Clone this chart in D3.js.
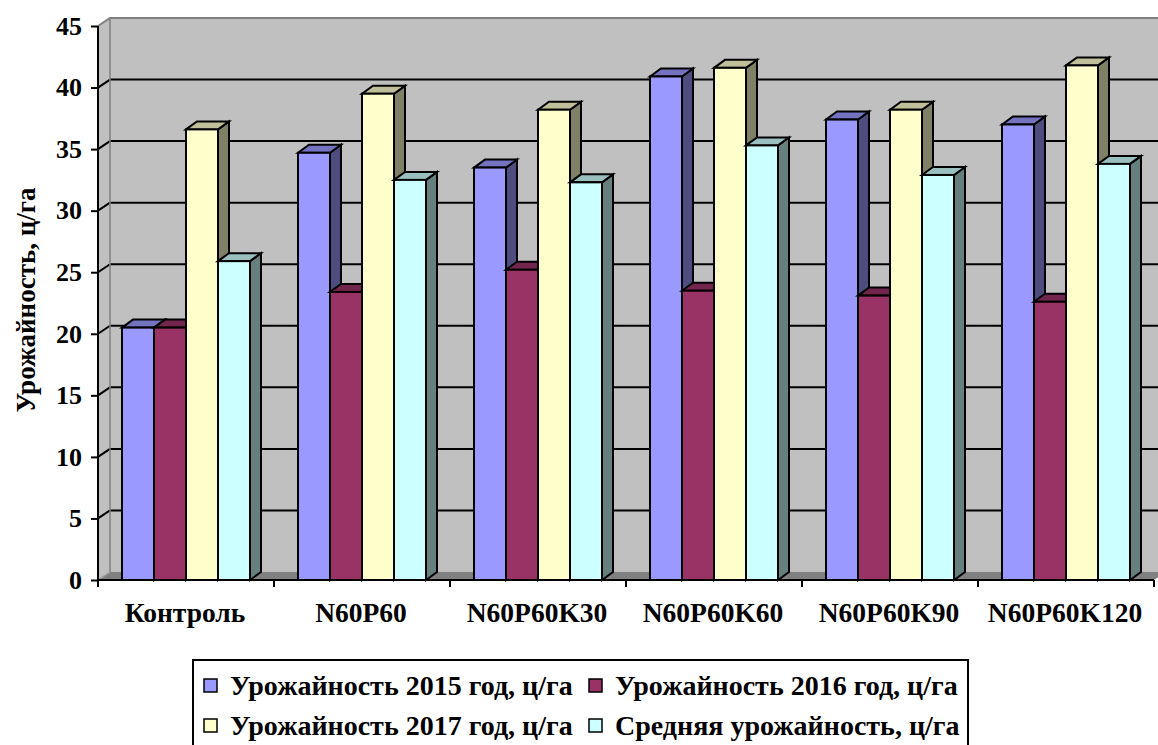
<!DOCTYPE html>
<html>
<head>
<meta charset="utf-8">
<script src="https://cdn.jsdelivr.net/npm/d3@7"></script>
<style>
  html, body { margin: 0; padding: 0; background: #ffffff; }
  svg { display: block; }
  text { font-family: "Liberation Serif", "Times New Roman", serif; font-weight: bold; fill: #000; }
</style>
</head>
<body>
<svg id="chart" width="1158" height="745"></svg>
<script>
// Fertilizer treatments and yields (centners per hectare)
const categories = ["Контроль", "N60P60", "N60P60K30", "N60P60K60", "N60P60K90", "N60P60K120"];
const seriesNames = [
  "Урожайность 2015 год, ц/га",
  "Урожайность 2016 год, ц/га",
  "Урожайность 2017 год, ц/га",
  "Средняя урожайность, ц/га"
];
const yield2015 = [20.5, 34.7, 33.5, 40.9, 37.4, 37.0];
const yield2016 = [20.5, 23.4, 25.2, 23.5, 23.1, 22.6];
const yield2017 = [36.6, 39.5, 38.2, 41.6, 38.2, 41.8];
const yieldAvg  = [25.9, 32.5, 32.3, 35.3, 32.9, 33.8];
const yTicks = [0, 5, 10, 15, 20, 25, 30, 35, 40, 45];
const yTitle = "Урожайность, ц/га";

const seriesValues = [yield2015, yield2016, yield2017, yieldAvg];
const frontColors = ["#9999FF", "#993366", "#FFFFCC", "#CCFFFF"];

// shade a colour for the top (0.75) and side (0.5) faces
function shade(c, k) {
  const r = d3.rgb(c);
  return d3.rgb(r.r * k, r.g * k, r.b * k).formatHex();
}

const svg = d3.select("#chart");

// plot frame (front plane) and 3D depth offset
const plotLeft = 98, plotRight = 1154, plotBottom = 580, plotTop = 26;
const wallDx = 12, wallDy = -8;
const barDx = 11, barDy = -8;

const y = d3.scaleLinear().domain([0, 45]).range([plotBottom, plotTop]);
const x0 = d3.scaleBand().domain(categories).range([plotLeft, plotRight]).padding(0);
const x1 = d3.scaleBand().domain(d3.range(seriesNames.length))
  .range([0, x0.bandwidth()]).paddingInner(0).paddingOuter(0.75);

const g = svg.append("g");

// back wall
g.append("rect")
  .attr("x", plotLeft + wallDx).attr("y", plotTop + wallDy)
  .attr("width", 1158 - (plotLeft + wallDx) + 20).attr("height", plotBottom - plotTop)
  .attr("fill", "#C0C0C0");
// left side wall
g.append("path")
  .attr("d", `M${plotLeft},${plotBottom}L${plotLeft},${plotTop}L${plotLeft + wallDx},${plotTop + wallDy}L${plotLeft + wallDx},${plotBottom + wallDy}Z`)
  .attr("fill", "#C0C0C0");
// floor
g.append("path")
  .attr("d", `M${plotLeft},${plotBottom}L${plotRight},${plotBottom}L${plotRight + wallDx},${plotBottom + wallDy}L${plotLeft + wallDx},${plotBottom + wallDy}Z`)
  .attr("fill", "#808080");

// gridlines on the back wall and the side wall
yTicks.filter(t => t > 0 && t < 45).forEach(t => {
  g.append("line")
    .attr("x1", plotLeft + wallDx).attr("x2", 1160)
    .attr("y1", y(t) + wallDy).attr("y2", y(t) + wallDy)
    .attr("stroke", "#000").attr("stroke-width", 2);
  g.append("line")
    .attr("x1", plotLeft).attr("x2", plotLeft + wallDx)
    .attr("y1", y(t)).attr("y2", y(t) + wallDy)
    .attr("stroke", "#000").attr("stroke-width", 2);
});
// wall edges
g.append("path")
  .attr("d", `M${plotLeft},${plotTop}L${plotLeft + wallDx},${plotTop + wallDy}L1160,${plotTop + wallDy}`)
  .attr("fill", "none").attr("stroke", "#808080").attr("stroke-width", 2);
g.append("line")
  .attr("x1", plotLeft + wallDx).attr("x2", plotLeft + wallDx)
  .attr("y1", plotTop + wallDy).attr("y2", plotBottom + wallDy)
  .attr("stroke", "#808080").attr("stroke-width", 1.5);
g.append("line")
  .attr("x1", plotLeft).attr("x2", plotLeft + wallDx)
  .attr("y1", plotBottom).attr("y2", plotBottom + wallDy)
  .attr("stroke", "#A0A0A0").attr("stroke-width", 1.5);

// 3D columns: drawn left to right so each front face covers the previous side
const bars = [];
categories.forEach((c, ci) => {
  seriesValues.forEach((vals, si) => {
    bars.push({ c, si, v: vals[ci] });
  });
});

const barG = g.append("g").attr("stroke", "#000").attr("stroke-width", 2).attr("stroke-linejoin", "miter");
bars.forEach(b => {
  const bx = x0(b.c) + x1(b.si);
  const bw = x1.bandwidth();
  const yt = y(b.v), yb = y(0);
  const col = frontColors[b.si];
  // side face
  barG.append("path")
    .attr("d", `M${bx + bw},${yb}L${bx + bw},${yt}L${bx + bw + barDx},${yt + barDy}L${bx + bw + barDx},${yb + barDy}Z`)
    .attr("fill", shade(col, 0.5));
  // top face
  barG.append("path")
    .attr("d", `M${bx},${yt}L${bx + barDx},${yt + barDy}L${bx + bw + barDx},${yt + barDy}L${bx + bw},${yt}Z`)
    .attr("fill", shade(col, 0.75));
  // front face
  barG.append("rect")
    .attr("x", bx).attr("y", yt).attr("width", bw).attr("height", yb - yt)
    .attr("fill", col);
});

// value axis
const yAxis = d3.axisLeft(y).tickValues(yTicks).tickSize(7).tickPadding(9).tickFormat(d3.format("d"));
const ya = svg.append("g").attr("transform", `translate(${plotLeft},0)`).call(yAxis);
ya.select(".domain").attr("stroke", "#000").attr("stroke-width", 2).attr("d", `M0,${plotBottom}V${plotTop}`);
ya.selectAll(".tick line").attr("stroke", "#000").attr("stroke-width", 2);
ya.selectAll(".tick text")
  .attr("font-family", "Liberation Serif").attr("font-weight", "bold").attr("font-size", 26).attr("fill", "#000");

// category axis
const xAxis = d3.axisBottom(x0).tickSize(0);
const xa = svg.append("g").attr("transform", `translate(0,${plotBottom})`).call(xAxis);
xa.select(".domain").attr("stroke", "#000").attr("stroke-width", 2).attr("d", `M${plotLeft},0H${plotRight}`);
xa.selectAll(".tick text")
  .attr("font-family", "Liberation Serif").attr("font-weight", "bold").attr("font-size", 27.5).attr("fill", "#000")
  .attr("y", 42).attr("dy", 0).attr("dx", -1);
// category boundary ticks
xa.selectAll(".boundary").data(d3.range(categories.length + 1)).join("line")
  .attr("class", "boundary")
  .attr("x1", i => plotLeft + i * x0.step()).attr("x2", i => plotLeft + i * x0.step())
  .attr("y1", 0).attr("y2", 7)
  .attr("stroke", "#000").attr("stroke-width", 2);

// value axis title
svg.append("text")
  .attr("transform", `translate(35,300) rotate(-90)`)
  .attr("text-anchor", "middle")
  .attr("font-size", 27)
  .text(yTitle);

// legend
const lg = svg.append("g");
lg.append("rect")
  .attr("x", 193).attr("y", 660).attr("width", 775).attr("height", 110)
  .attr("fill", "#fff").attr("stroke", "#000").attr("stroke-width", 2);
const legendPos = [
  { x: 204, y: 679 }, { x: 589, y: 679 },
  { x: 204, y: 719 }, { x: 589, y: 719 }
];
seriesNames.forEach((name, i) => {
  const p = legendPos[i];
  lg.append("rect")
    .attr("x", p.x).attr("y", p.y).attr("width", 13).attr("height", 13)
    .attr("fill", frontColors[i]).attr("stroke", "#000").attr("stroke-width", 1.5);
  lg.append("text")
    .attr("x", p.x + 26).attr("y", p.y + 16)
    .attr("font-size", 28)
    .text(name);
});
</script>
</body>
</html>
